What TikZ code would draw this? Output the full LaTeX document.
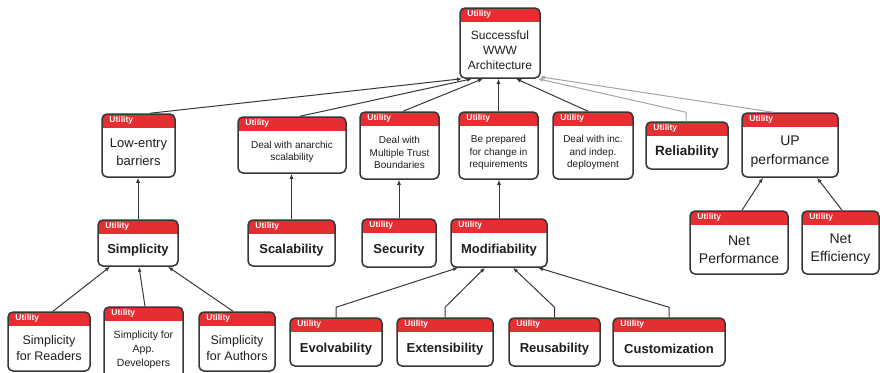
\documentclass[tikz,border=0pt]{standalone}
\usepackage{fontspec}
\setmainfont{Liberation Sans}
\usetikzlibrary{arrows.meta}

\definecolor{hdrred}{RGB}{228,46,50}
\definecolor{edge}{RGB}{55,55,55}
\definecolor{lightedge}{RGB}{165,165,165}
\definecolor{ink}{RGB}{30,30,30}

\newcommand\fsz[2]{\fontsize{#1}{#2}\selectfont}

\tikzset{
  ubox/.style={draw=edge, line width=1.5pt, rounded corners=5pt, fill=white, inner sep=0pt,
    path picture={\fill[hdrred, sharp corners] (path picture bounding box.north west)
      rectangle ([yshift=-14pt]path picture bounding box.north east);}},
  utag/.style={anchor=west, text=white, font=\fsz{8.5}{9}\bfseries, inner sep=0pt},
  utext/.style={align=center, text=ink, inner sep=0pt},
  conn/.style={draw=edge, line width=1pt, -{Latex[length=5pt,width=4pt]}},
  faint/.style={conn, draw=lightedge},
}

% name, centre x, centre y, width, height, font, text
\newcommand\utilbox[7]{%
  \node[ubox, minimum width=#4pt, minimum height=#5pt] (#1) at (#2,#3) {};
  \node[utag] (#1-tag) at ([xshift=8pt,yshift=-7pt]#1.north west) {Utility};
  \node[utext, font=#6] (#1-txt) at ([yshift=-7pt]#1.center) {#7};
}

\begin{document}
\begin{tikzpicture}[x=1pt, y=-1pt]
\useasboundingbox (0,0) rectangle (880,372);

% root
\utilbox{top}{500}{43}{80}{70}{\fsz{12}{15}}{Successful\\WWW\\Architecture}

% second level
\utilbox{low}{138.5}{145.5}{73}{63}{\fsz{13}{18}}{Low-entry\\barriers}
\utilbox{anar}{292}{145}{108}{56}{\fsz{10}{12.5}}{Deal with anarchic\\scalability}
\utilbox{trust}{399.5}{145.5}{79}{67}{\fsz{10}{12.5}}{Deal with\\Multiple Trust\\Boundaries}
\utilbox{prep}{498.5}{145.5}{79}{67}{\fsz{10}{12.5}}{Be prepared\\for change in\\requirements}
\utilbox{inc}{593}{145.5}{80}{67}{\fsz{10}{12.5}}{Deal with inc.\\and indep.\\deployment}
\utilbox{rel}{687}{145.5}{82}{47}{\fsz{13.5}{16}\bfseries}{Reliability}
\utilbox{up}{790}{145}{96}{64}{\fsz{14}{19}}{UP\\performance}

% third level
\utilbox{simp}{138}{243}{80}{46}{\fsz{13}{16}\bfseries}{Simplicity}
\utilbox{scal}{291.5}{243}{87}{46}{\fsz{13}{16}\bfseries}{Scalability}
\utilbox{sec}{399}{243}{74}{48}{\fsz{13}{16}\bfseries}{Security}
\utilbox{mod}{499}{243}{96}{48}{\fsz{13}{16}\bfseries}{Modifiability}
\utilbox{netp}{739}{242.5}{98}{63}{\fsz{14}{18}}{Net\\Performance}
\utilbox{nete}{840.5}{242.5}{77}{63}{\fsz{14}{18}}{Net\\Efficiency}

% fourth level
\utilbox{sr}{49}{341.5}{82}{59}{\fsz{12.5}{16}}{Simplicity\\for Readers}
\utilbox{sa}{143.5}{343}{79}{72}{\fsz{10.5}{14}}{Simplicity for\\App.\\Developers}
\utilbox{sau}{237}{341.5}{76}{59}{\fsz{12.5}{16}}{Simplicity\\for Authors}
\utilbox{evo}{336}{342}{92}{48}{\fsz{13}{16}\bfseries}{Evolvability}
\utilbox{ext}{445}{342}{96}{48}{\fsz{13}{16}\bfseries}{Extensibility}
\utilbox{reu}{554.5}{342}{91}{48}{\fsz{13}{16}\bfseries}{Reusability}
\utilbox{cus}{669}{342}{112}{48}{\fsz{13}{16}\bfseries}{Customization}

% connectors to the root
\draw[conn] ([xshift=11.5pt]low.north) -- ([xshift=-38pt]top.south);
\draw[conn] ([xshift=8pt]anar.north) -- ([xshift=-28pt]top.south);
\draw[conn] ([xshift=3.5pt]trust.north) -- ([xshift=-17pt]top.south);
\draw[conn] (prep.north) -- (prep.north |- top.south);
\draw[conn] ([xshift=-5pt]inc.north) -- ([xshift=16pt]top.south);
\draw[faint] ([xshift=-1pt]rel.north) -- ([xshift=-1pt,yshift=9pt]rel.north) -- ([xshift=-3pt]top.south east);
\draw[faint] ([xshift=-17pt]up.north) -- ([xshift=-1pt,yshift=2pt]top.south east);

% connectors to the second level
\draw[conn] (simp.north) -- (simp.north |- low.south);
\draw[conn] (scal.north) -- (scal.north |- anar.south);
\draw[conn] (sec.north) -- (sec.north |- trust.south);
\draw[conn] (mod.north) -- (mod.north |- prep.south);
\draw[conn] ([xshift=3pt]netp.north) -- ([xshift=-27pt]up.south);
\draw[conn] ([xshift=1.5pt]nete.north) -- ([xshift=27pt]up.south);

% connectors to the third level
\draw[conn] ([xshift=4pt]sr.north) -- ([xshift=-28pt]simp.south);
\draw[conn] ([xshift=1.5pt]sa.north) -- ([xshift=1pt]simp.south);
\draw[conn] ([xshift=-4pt]sau.north) -- ([xshift=30pt]simp.south);
\draw[conn] (evo.north) -- ([yshift=10pt]evo.north) -- ([xshift=-41pt]mod.south);
\draw[conn] (ext.north) -- ([yshift=10pt]ext.north) -- ([xshift=-14pt]mod.south);
\draw[conn] (reu.north) -- ([yshift=10pt]reu.north) -- ([xshift=14pt]mod.south);
\draw[conn] (cus.north) -- ([yshift=10pt]cus.north) -- ([xshift=39pt]mod.south);
\end{tikzpicture}
\end{document}
